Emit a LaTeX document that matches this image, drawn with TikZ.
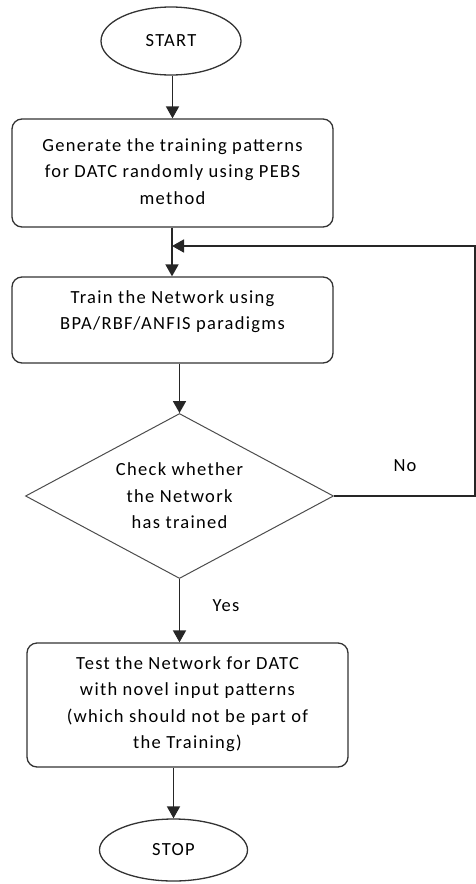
\documentclass[tikz,border=0pt]{standalone}
\usepackage{fontspec}
\setmainfont{Carlito}[LetterSpace=7]
\usetikzlibrary{shapes, arrows.meta, positioning}

\newcommand{\boxtext}[2]{\parbox[c][#1][t]{300pt}{\centering\rule{0pt}{18pt}#2}}

\begin{document}
\begin{tikzpicture}[
  x=1pt, y=-1pt,
  font=\fontsize{18.5}{26.5}\selectfont,
  terminal/.style={draw=black!80, line width=1.3pt, ellipse, minimum width=140pt, minimum height=68pt, inner sep=0pt},
  pbox/.style={draw=black!80, line width=1.3pt, rounded corners=10pt, minimum width=321pt, inner xsep=10.5pt, inner ysep=8pt},
  decision/.style={draw=black!70, line width=1pt, diamond, aspect=1.87, minimum width=308pt, minimum height=165pt, inner sep=0pt, align=center},
  arr/.style={-{Triangle[length=12pt, width=13pt]}, line width=1.8pt, black!85}
]
  \useasboundingbox (0,0) rectangle (476,884);

  \node[terminal] (start) at (171,41) {START};
  \node[pbox, inner ysep=14pt] (gen) at (172.5,173) {\boxtext{80pt}{Generate the training patterns\\ for DATC randomly using PEBS\\ method}};
  \node[pbox] (train) at (172.5,320) {\boxtext{70pt}{Train the Network using\\ BPA/RBF/ANFIS paradigms}};
  \node[decision] (check) at (179.5,496) {Check whether\\ the Network\\ has trained};
  \node[pbox] (test) at (187.5,705) {\boxtext{108pt}{Test the Network for DATC\\ with novel input patterns\\ (which should not be part of\\ the Training)}};
  \node[terminal, minimum width=148pt, minimum height=62pt] (stop) at (173.5,850) {STOP};

  \node (no) at (405,466) {No};
  \node (yes) at (226,606) {Yes};

  \coordinate (merge) at (172,246);
  \coordinate (back) at (475,246);

  \draw[arr] (start.south -| gen.north) -- (gen.north);
  \draw[arr] (gen.south -| merge) -- (merge |- train.north);
  \draw[arr] (train.south -| check.north) -- (check.north);
  \draw[arr] (check.south) -- (check.south |- test.north);
  \draw[arr] (stop.north |- test.south) -- (stop.north);
  \draw[arr] (check.east) -| (back) -- (merge);
\end{tikzpicture}
\end{document}
